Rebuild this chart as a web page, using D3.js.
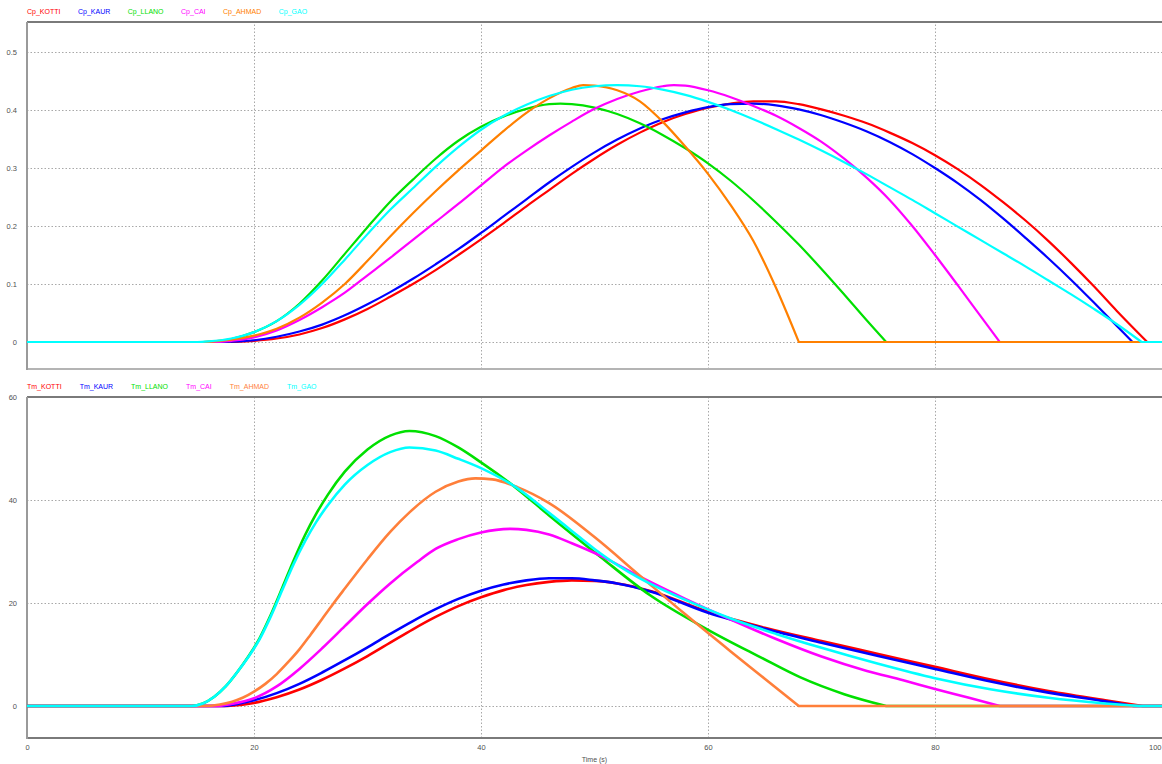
<!DOCTYPE html>
<html>
<head>
<meta charset="utf-8">
<script src="https://cdn.jsdelivr.net/npm/d3@7/dist/d3.min.js"></script>
<style>
  html, body { margin: 0; padding: 0; background: #ffffff; }
  svg { display: block; }
  text { font-family: "Liberation Sans", Arial, sans-serif; }
</style>
</head>
<body>
<svg id="chart" width="1162" height="764"></svg>
<script>
// ---------------- DATA ----------------
const seriesNames = ["KOTTI", "KAUR", "LLANO", "CAI", "AHMAD", "GAO"];
const cpColors = ["#ff0000", "#0000ff", "#00e000", "#ff00ff", "#ff8000", "#00ffff"];
const tmColors = ["#ff0000", "#0000ff", "#00e000", "#ff00ff", "#ff7f3a", "#00ffff"];

const timeTicks = [0, 20, 40, 60, 80, 100];
const cpTicks = [0, 0.1, 0.2, 0.3, 0.4, 0.5];
const tmTicks = [0, 20, 40, 60];

// Cp series: [time (s), value]
const cpKotti = [[0,0],[18,0],[20,0.002],[22,0.006],[24,0.013],[26,0.024],[28,0.039],[30,0.057],[32,0.078],[34,0.1],[36,0.124],[38,0.15],[40,0.177],[42,0.205],[44,0.234],[46,0.262],[48,0.29],[50,0.316],[52,0.34],[54,0.361],[56,0.379],[58,0.393],[60,0.404],[62,0.411],[64,0.415],[66,0.415],[68,0.41],[70,0.401],[72,0.39],[74,0.377],[76,0.361],[78,0.343],[80,0.322],[82,0.298],[84,0.271],[86,0.241],[88,0.209],[90,0.174],[92,0.136],[94,0.096],[96,0.054],[98.7,0],[100,0]];
const cpKaur = [[0,0],[17.5,0],[20,0.003],[22,0.009],[24,0.018],[26,0.03],[28,0.046],[30,0.065],[32,0.086],[34,0.109],[36,0.134],[38,0.16],[40,0.188],[42,0.217],[44,0.246],[46,0.275],[48,0.302],[50,0.327],[52,0.349],[54,0.368],[56,0.384],[58,0.396],[60,0.405],[62,0.41],[64,0.411],[66,0.408],[68,0.401],[70,0.391],[72,0.378],[74,0.363],[76,0.345],[78,0.324],[80,0.3],[82,0.274],[84,0.245],[86,0.213],[88,0.179],[90,0.144],[92,0.107],[94,0.068],[96,0.028],[97.4,0],[100,0]];
const cpLlano = [[0,0],[15.5,0],[17,0.002],[18,0.005],[20,0.017],[22,0.036],[24,0.066],[26,0.106],[28,0.152],[30,0.198],[32,0.242],[34,0.28],[36,0.316],[38,0.347],[40,0.371],[42,0.389],[44,0.402],[46,0.41],[47,0.411],[48,0.41],[50,0.404],[52,0.393],[54,0.377],[56,0.357],[58,0.334],[60,0.308],[62,0.278],[64,0.244],[66,0.207],[68,0.168],[70,0.126],[72,0.082],[74,0.037],[75.7,0],[100,0]];
const cpCai = [[0,0],[17,0],[18,0.002],[20,0.008],[22,0.02],[24,0.038],[26,0.06],[28,0.085],[30,0.115],[32,0.145],[34,0.176],[36,0.207],[38,0.238],[40,0.27],[42,0.302],[44,0.33],[46,0.356],[48,0.38],[50,0.402],[52,0.419],[54,0.432],[56,0.441],[57,0.443],[58,0.442],[60,0.434],[62,0.422],[64,0.407],[66,0.39],[68,0.369],[70,0.345],[72,0.316],[74,0.283],[76,0.245],[78,0.2],[80,0.15],[82,0.098],[84,0.045],[85.7,0],[100,0]];
const cpAhmad = [[0,0],[15.5,0],[17,0.002],[18,0.004],[20,0.011],[22,0.023],[24,0.042],[26,0.068],[28,0.1],[30,0.14],[32,0.182],[34,0.222],[36,0.26],[38,0.296],[40,0.33],[42,0.364],[44,0.395],[46,0.42],[48,0.438],[49,0.443],[50,0.442],[52,0.434],[54,0.415],[56,0.38],[58,0.337],[60,0.29],[62,0.236],[64,0.174],[66,0.093],[68,0],[100,0]];
const cpGao = [[0,0],[15,0],[16,0.001],[18,0.006],[20,0.017],[22,0.036],[24,0.064],[26,0.1],[28,0.142],[30,0.186],[32,0.228],[34,0.265],[36,0.302],[38,0.336],[40,0.366],[42,0.39],[44,0.409],[46,0.424],[48,0.435],[50,0.441],[52,0.443],[54,0.441],[56,0.435],[58,0.426],[60,0.414],[62,0.4],[64,0.384],[66,0.367],[68,0.349],[70,0.33],[72,0.31],[74,0.289],[76,0.267],[78,0.245],[80,0.222],[82,0.199],[84,0.176],[86,0.153],[88,0.13],[90,0.106],[92,0.082],[94,0.057],[96,0.031],[98.2,0],[100,0]];

// Tm series: [time (s), value]
const tmKotti = [[0,0],[17.5,0],[18,0.05],[20,0.6],[22,1.7],[24,3.2],[26,5.1],[28,7.3],[30,9.7],[32,12.3],[34,14.9],[36,17.3],[38,19.4],[40,21.1],[42,22.5],[44,23.5],[46,24.1],[48,24.4],[50,24.3],[52,23.8],[55,22.3],[60,18.3],[65,15.2],[70,12.6],[75,10.1],[80,7.6],[85,5.1],[90,2.9],[95,1.1],[98.3,0],[100,0]];
const tmKaur = [[0,0],[17,0],[18,0.2],[20,1.1],[22,2.5],[24,4.3],[26,6.5],[28,8.9],[30,11.4],[32,14],[34,16.5],[36,18.8],[38,20.8],[40,22.4],[42,23.6],[44,24.4],[46,24.8],[48,24.8],[50,24.4],[52,23.8],[55,22.2],[60,18.1],[65,15],[70,12.3],[75,9.7],[80,7.2],[85,4.7],[90,2.6],[95,0.9],[97.5,0],[100,0]];
const tmLlano = [[0,0],[14.5,0],[15.5,0.5],[16.5,1.8],[17.5,3.8],[18.5,6.5],[19.5,9.6],[20.5,13.2],[21.5,17.8],[22.5,23],[23.5,28.3],[24.5,33.2],[25.5,37.4],[26.5,41],[28,45.5],[30,49.8],[32,52.5],[33.7,53.4],[36,52.4],[38,50.2],[40,47.3],[43,42.5],[46,37],[50.5,29],[54.9,21.5],[60,14.8],[64.6,9.5],[68.1,5.6],[72,2.3],[75.7,0],[100,0]];
const tmCai = [[0,0],[16.5,0],[18,0.4],[20,1.5],[22,3.8],[24,7.2],[26,11.2],[28,15.5],[30,19.8],[32,23.8],[34.4,28],[36,30.5],[38,32.4],[40,33.7],[42.6,34.4],[44,34.2],[46,33.3],[48,31.6],[50.5,29.2],[54,25.1],[58,20.8],[62,16.8],[66,13],[70,9.6],[74,6.8],[77.2,5],[80,3.3],[83,1.6],[85.7,0],[100,0]];
const tmAhmad = [[0,0],[15.5,0],[17,0.3],[18,0.8],[19,1.6],[20,2.8],[21,4.3],[22,6.2],[23,8.5],[24,11],[25,13.9],[26,16.9],[27,19.9],[28,22.8],[30,28.5],[32,33.8],[33.7,37.6],[36,41.6],[38,43.6],[39.5,44.2],[41,44],[43.2,42.5],[46,39.4],[50,32.8],[54,25.3],[58,17.8],[62,10.6],[65,5.3],[68,0],[100,0]];
const tmGao = [[0,0],[14.5,0],[15.5,0.5],[16.5,1.8],[17.5,3.8],[18.5,6.5],[19.5,9.5],[20.5,13],[21.5,17.5],[22.5,22.6],[23.5,27.6],[24.5,32],[25.5,35.8],[26.5,39],[28,43],[30,46.8],[32,49.3],[33.7,50.2],[36,49.6],[38,48],[40,46.2],[43,42.6],[46,37.5],[48,34],[50,30.5],[52,27.4],[54,24.8],[56,22.6],[58,20.6],[62,17],[66,14],[70,11.3],[75,8.2],[80,5.4],[85,3.2],[90,1.6],[95,0.5],[98,0],[100,0]];

const cpSeries = [cpKotti, cpKaur, cpLlano, cpCai, cpAhmad, cpGao];
const tmSeries = [tmKotti, tmKaur, tmLlano, tmCai, tmAhmad, tmGao];

// ---------------- LAYOUT ----------------
const svg = d3.select("#chart");
const W = 1162;
const x = d3.scaleLinear().domain([0, 100]).range([27, 1162]);
const fontFam = '"Liberation Sans", Arial, sans-serif';

const panels = [
  { prefix: "Cp_", series: cpSeries, colors: cpColors, ticks: cpTicks,
    y: d3.scaleLinear().domain([0, 0.5]).range([342, 52]),
    top: 22, bottom: 369, legendY: 14, legendGap: 17.5, lineW: 2.2,
    fmt: d => d === 0 ? "0" : d3.format(".1f")(d) },
  { prefix: "Tm_", series: tmSeries, colors: tmColors, ticks: tmTicks,
    y: d3.scaleLinear().domain([0, 60]).range([706, 397]),
    top: 397, bottom: 738, legendY: 389, legendGap: 18, lineW: 2.6,
    fmt: d => String(d) }
];

const defs = svg.append("defs");

panels.forEach((p, pi) => {
  const g = svg.append("g");
  const left = x(0), right = W;

  defs.append("clipPath").attr("id", "clip" + pi)
    .append("rect").attr("x", left).attr("y", p.top)
    .attr("width", right - left).attr("height", p.bottom - p.top);

  // horizontal grid
  const hGrid = g.append("g").attr("transform", `translate(${left},0)`)
    .call(d3.axisLeft(p.y).tickValues(p.ticks).tickSize(-(right - left)).tickFormat(""));
  hGrid.select(".domain").remove();
  hGrid.selectAll("line").attr("stroke", "#a8a8a8").attr("stroke-width", 1)
    .attr("stroke-dasharray", "1.5,2");

  // vertical grid
  const vGrid = g.append("g").attr("transform", `translate(0,${p.bottom})`)
    .call(d3.axisBottom(x).tickValues(timeTicks.filter(t => t > 0 && t < 100))
      .tickSize(-(p.bottom - p.top)).tickFormat(""));
  vGrid.select(".domain").remove();
  vGrid.selectAll("line").attr("stroke", "#a8a8a8").attr("stroke-width", 1)
    .attr("stroke-dasharray", "1.5,2");

  // y tick labels
  const yAx = g.append("g").attr("transform", `translate(17,0)`)
    .call(d3.axisLeft(p.y).tickValues(p.ticks).tickSize(0).tickPadding(0).tickFormat(p.fmt));
  yAx.select(".domain").remove();
  yAx.selectAll("text").attr("font-size", "7.5px").attr("fill", "#505050")
    .attr("text-anchor", "end").style("font-family", fontFam);

  // frame
  g.append("line").attr("x1", left).attr("x2", right).attr("y1", p.top).attr("y2", p.top)
    .attr("stroke", "#7a7a7a").attr("stroke-width", 2);
  g.append("line").attr("x1", left).attr("x2", right).attr("y1", p.bottom).attr("y2", p.bottom)
    .attr("stroke", pi === 0 ? "#b4b4b4" : "#7a7a7a").attr("stroke-width", 2);
  g.append("line").attr("x1", left).attr("x2", left).attr("y1", p.top).attr("y2", p.bottom + 1)
    .attr("stroke", "#9a9a9a").attr("stroke-width", 2);

  // lines: smooth part up to where the series returns to zero, straight after
  const smooth = d3.line().x(d => x(d[0])).y(d => p.y(d[1])).curve(d3.curveMonotoneX);
  const straight = d3.line().x(d => x(d[0])).y(d => p.y(d[1]));
  const lg = g.append("g").attr("clip-path", `url(#clip${pi})`);
  p.series.forEach((s, i) => {
    let last = s.length - 1;
    while (last > 0 && s[last][1] === 0) last--;
    const endIdx = Math.min(last + 1, s.length - 1);
    const body = s.slice(0, endIdx + 1);
    const tail = s.slice(endIdx);
    let dStr = smooth(body);
    if (tail.length > 1) dStr += straight(tail).replace(/^M/, "L");
    lg.append("path").attr("d", dStr)
      .attr("fill", "none").attr("stroke", p.colors[i])
      .attr("stroke-width", p.lineW).attr("stroke-linejoin", "round");
  });

  // legend
  let lx = 27;
  seriesNames.forEach((n, i) => {
    const t = svg.append("text").attr("x", lx).attr("y", p.legendY)
      .attr("font-size", "7px").attr("fill", p.colors[i]).text(p.prefix + n);
    lx += t.node().getComputedTextLength() + p.legendGap;
  });
});

// x axis labels
const xAx = svg.append("g").attr("transform", "translate(0,745)")
  .call(d3.axisBottom(x).tickValues(timeTicks).tickSize(0).tickPadding(0).tickFormat(d => String(d)));
xAx.select(".domain").remove();
xAx.selectAll("text").attr("font-size", "7.5px").attr("fill", "#505050")
  .style("font-family", fontFam)
  .attr("text-anchor", d => d === 100 ? "end" : "middle")
  .attr("x", d => d === 100 ? -1 : 0);

svg.append("text").attr("x", (x(0) + x(100)) / 2).attr("y", 762)
  .attr("text-anchor", "middle").attr("font-size", "7px").attr("fill", "#505050")
  .text("Time (s)");
</script>
</body>
</html>
